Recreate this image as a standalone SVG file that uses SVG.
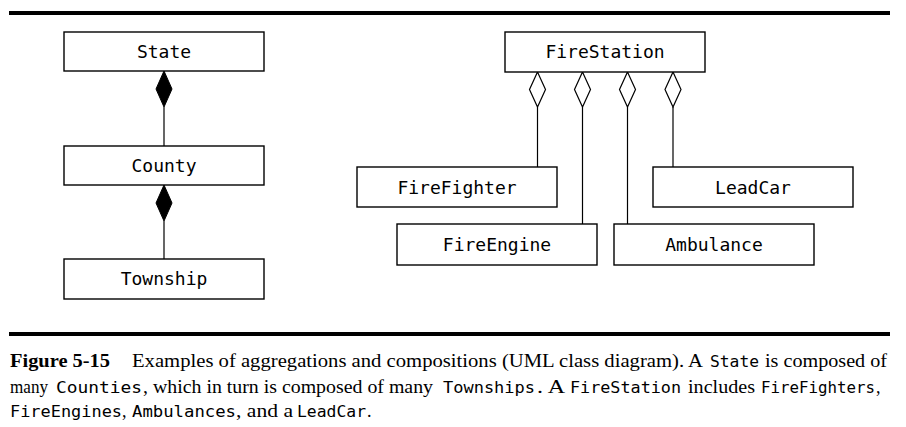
<svg xmlns="http://www.w3.org/2000/svg" width="906" height="427" viewBox="0 0 906 427">
<style>
.box{fill:#fff;stroke:#000;stroke-width:1.4}
.lbl{font-family:"DejaVu Sans Mono","Liberation Mono",monospace;font-size:18px;text-anchor:middle;fill:#000}
.ln{stroke:#000;stroke-width:1.2;fill:none}
.fd{fill:#000;stroke:#000;stroke-width:1}
.hd{fill:#fff;stroke:#000;stroke-width:1.2}
.cap{font-family:"Liberation Serif","Times New Roman",serif;font-size:18px;fill:#000}
.capb{font-family:"Liberation Serif","Times New Roman",serif;font-size:18px;font-weight:bold;fill:#000}
.mono{font-family:"DejaVu Sans Mono","Liberation Mono",monospace;font-size:16px;fill:#000}
</style>
<rect width="906" height="427" fill="#fff"/>
<rect x="9" y="11" width="881" height="4" fill="#000"/>
<rect x="9" y="332" width="881" height="4" fill="#000"/>

<g id="connectors">
  <line class="ln" x1="164" y1="107" x2="164" y2="146"/>
  <polygon class="fd" points="164,71 172,89 164,107 156,89"/>
  <line class="ln" x1="164" y1="221" x2="164" y2="259"/>
  <polygon class="fd" points="164,185 172,203 164,221 156,203"/>
  <line class="ln" x1="537.5" y1="107" x2="537.5" y2="167"/>
  <polygon class="hd" points="537.5,72 545.5,89.5 537.5,107 529.5,89.5"/>
  <line class="ln" x1="582.5" y1="107" x2="582.5" y2="224"/>
  <polygon class="hd" points="582.5,72 590.5,89.5 582.5,107 574.5,89.5"/>
  <line class="ln" x1="627.5" y1="107" x2="627.5" y2="224"/>
  <polygon class="hd" points="627.5,72 635.5,89.5 627.5,107 619.5,89.5"/>
  <line class="ln" x1="673" y1="107" x2="673" y2="167"/>
  <polygon class="hd" points="673,72 681,89.5 673,107 665,89.5"/>
</g>

<g id="State"><rect class="box" x="64" y="32" width="200" height="39"/><text class="lbl" x="164" y="58">State</text></g>
<g id="County"><rect class="box" x="64" y="146" width="200" height="39"/><text class="lbl" x="164" y="172">County</text></g>
<g id="Township"><rect class="box" x="64" y="259" width="200" height="40"/><text class="lbl" x="164" y="285">Township</text></g>
<g id="FireStation"><rect class="box" x="505" y="32" width="200" height="40"/><text class="lbl" x="605" y="58">FireStation</text></g>
<g id="FireFighter"><rect class="box" x="357" y="167" width="200" height="40"/><text class="lbl" x="457" y="194">FireFighter</text></g>
<g id="LeadCar"><rect class="box" x="653" y="167" width="200" height="40"/><text class="lbl" x="753" y="194">LeadCar</text></g>
<g id="FireEngine"><rect class="box" x="397" y="224" width="200" height="41"/><text class="lbl" x="497" y="251">FireEngine</text></g>
<g id="Ambulance"><rect class="box" x="614" y="224" width="200" height="41"/><text class="lbl" x="714" y="251">Ambulance</text></g>

<g id="caption">
  <text class="capb" x="10" y="367" textLength="100" lengthAdjust="spacingAndGlyphs">Figure 5-15</text>
  <text class="cap" x="132" y="367" textLength="571" lengthAdjust="spacingAndGlyphs">Examples of aggregations and compositions (UML class diagram). A</text>
  <text class="mono" x="710" y="367" textLength="49" lengthAdjust="spacingAndGlyphs">State</text>
  <text class="cap" x="765" y="367" textLength="122" lengthAdjust="spacingAndGlyphs">is composed of</text>

  <text class="cap" x="10" y="393" textLength="38" lengthAdjust="spacingAndGlyphs">many</text>
  <text class="mono" x="56" y="393" textLength="86" lengthAdjust="spacingAndGlyphs">Counties</text>
  <text class="cap" x="143" y="393" textLength="290" lengthAdjust="spacingAndGlyphs">, which in turn is composed of many</text>
  <text class="mono" x="443" y="393" textLength="92" lengthAdjust="spacingAndGlyphs">Townships</text>
  <text class="cap" x="537" y="393" textLength="28" lengthAdjust="spacingAndGlyphs">. A</text>
  <text class="mono" x="570" y="393" textLength="111" lengthAdjust="spacingAndGlyphs">FireStation</text>
  <text class="cap" x="688" y="393" textLength="67" lengthAdjust="spacingAndGlyphs">includes</text>
  <text class="mono" x="761" y="393" textLength="114" lengthAdjust="spacingAndGlyphs">FireFighters</text>
  <text class="cap" x="876" y="393">,</text>

  <text class="mono" x="10" y="417" textLength="112" lengthAdjust="spacingAndGlyphs">FireEngines</text>
  <text class="cap" x="122" y="417">,</text>
  <text class="mono" x="132" y="417" textLength="104" lengthAdjust="spacingAndGlyphs">Ambulances</text>
  <text class="cap" x="236" y="417" textLength="57" lengthAdjust="spacingAndGlyphs">, and a</text>
  <text class="mono" x="297" y="417" textLength="69" lengthAdjust="spacingAndGlyphs">LeadCar</text>
  <text class="cap" x="367" y="417">.</text>
</g>
</svg>
